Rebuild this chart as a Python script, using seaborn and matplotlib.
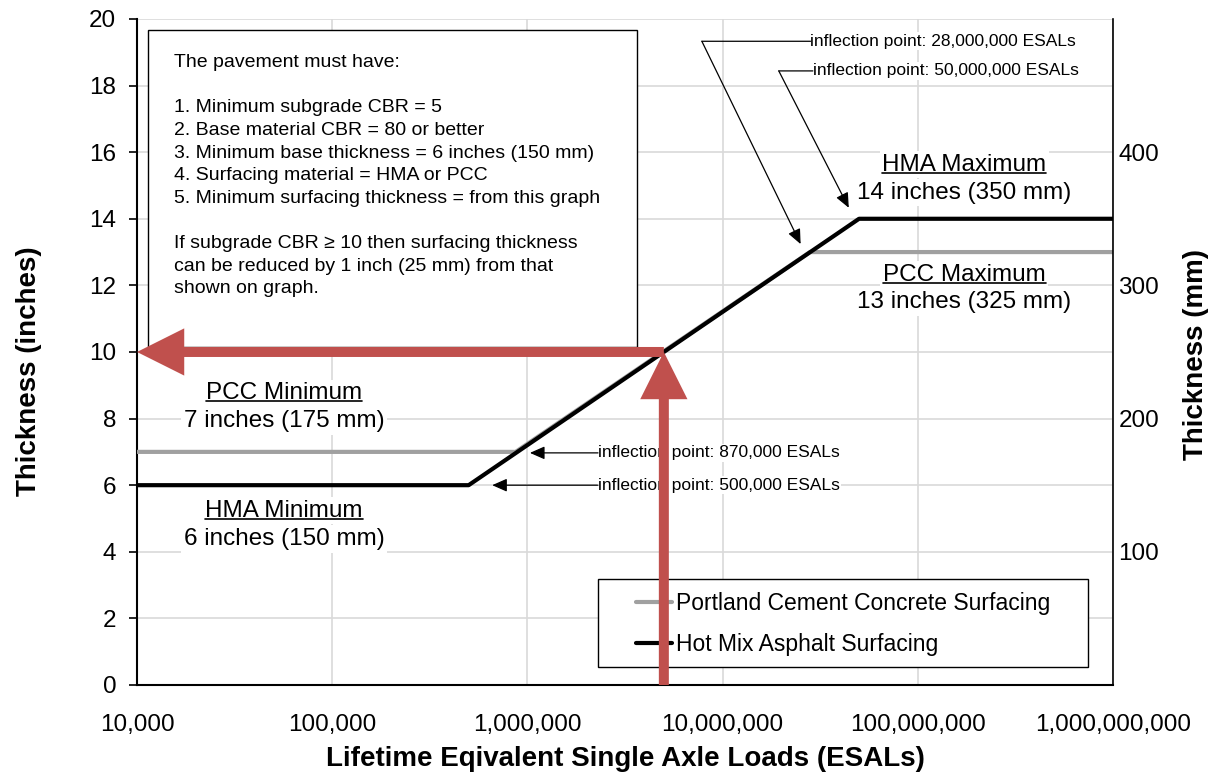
import numpy as np
import pandas as pd
import seaborn as sns
import matplotlib.pyplot as plt
from matplotlib.patches import Rectangle
from matplotlib.lines import Line2D
from matplotlib.ticker import FixedLocator, NullLocator, FuncFormatter

# minimum surfacing thickness (inches) against lifetime ESALs
series_names = ['Portland Cement Concrete Surfacing', 'Hot Mix Asphalt Surfacing']
series_colors = ['#A0A0A0', 'black']
pcc_esals = [1e4, 8.7e5, 2.8e7, 1e9]
pcc_thickness = [7, 7, 13, 13]
hma_esals = [1e4, 5e5, 5e7, 1e9]
hma_thickness = [6, 6, 14, 14]

# worked example shown by the red arrows
example_esals = 5e6
example_thickness = 10

x_ticks = [1e4, 1e5, 1e6, 1e7, 1e8, 1e9]
y_ticks = list(range(0, 21, 2))
mm_ticks = [100, 200, 300, 400]
mm_per_inch = 25

note_text = ("The pavement must have:\n\n"
             "1. Minimum subgrade CBR = 5\n"
             "2. Base material CBR = 80 or better\n"
             "3. Minimum base thickness = 6 inches (150 mm)\n"
             "4. Surfacing material = HMA or PCC\n"
             "5. Minimum surfacing thickness = from this graph\n\n"
             "If subgrade CBR \u2265 10 then surfacing thickness\n"
             "can be reduced by 1 inch (25 mm) from that\n"
             "shown on graph.")

# (title, subtitle, x, y of title, y of subtitle)
limit_labels = [
    ('HMA Maximum', '14 inches (350 mm)', 1.73e8, 15.62, 14.78),
    ('PCC Maximum', '13 inches (325 mm)', 1.73e8, 12.31, 11.50),
    ('PCC Minimum', '7 inches (175 mm)', 5.66e4, 8.76, 7.93),
    ('HMA Minimum', '6 inches (150 mm)', 5.66e4, 5.23, 4.38),
]

# (text, text x, text y, arrow tip x, arrow tip y, elbow point or None)
inflections = [
    ('inflection point: 28,000,000 ESALs', 2.82e7, 19.33, 2.51e7, 13.24, (7.83e6, 19.33)),
    ('inflection point: 50,000,000 ESALs', 2.9e7, 18.44, 4.43e7, 14.33, (1.94e7, 18.44)),
    ('inflection point: 870,000 ESALs', 2.3e6, 6.97, 1.03e6, 6.97, None),
    ('inflection point: 500,000 ESALs', 2.3e6, 6.0, 6.6e5, 6.0, None),
]

df = pd.concat([
    pd.DataFrame({'esals': pcc_esals, 'thickness': pcc_thickness, 'surfacing': series_names[0]}),
    pd.DataFrame({'esals': hma_esals, 'thickness': hma_thickness, 'surfacing': series_names[1]}),
])

sns.set_theme(style='white')
plt.rcParams['font.family'] = ['Liberation Sans', 'DejaVu Sans']
plt.rcParams['text.color'] = 'black'
plt.rcParams['axes.labelcolor'] = 'black'

fig, ax = plt.subplots(figsize=(12.2, 7.74), dpi=100)
fig.subplots_adjust(left=0.1123, right=0.9123, bottom=0.115, top=0.9755)
ax.set_xscale('log')

sns.lineplot(data=df, x='esals', y='thickness', hue='surfacing', hue_order=series_names,
             palette=dict(zip(series_names, series_colors)), linewidth=3,
             estimator=None, sort=False, ax=ax, zorder=3)

ax.set_xlim(x_ticks[0], x_ticks[-1])
ax.set_ylim(y_ticks[0], y_ticks[-1])
ax.xaxis.set_major_locator(FixedLocator(x_ticks))
ax.xaxis.set_minor_locator(NullLocator())
ax.xaxis.set_major_formatter(FuncFormatter(lambda v, p: f'{v:,.0f}'))
ax.set_yticks(y_ticks)
ax.grid(True, color='#D9D9D9', lw=1.2)
ax.set_axisbelow(True)
ax.tick_params(axis='both', labelsize=17.5, colors='black', direction='out',
               length=6, width=1.2, pad=9)
ax.tick_params(axis='x', pad=15)
for s in ['left', 'bottom']:
    ax.spines[s].set_color('black')
    ax.spines[s].set_linewidth(1.5)
ax.spines['top'].set_visible(False)
ax.spines['right'].set_visible(False)

ax.set_xlabel('Lifetime Eqivalent Single Axle Loads (ESALs)', fontsize=20,
              fontweight='bold', labelpad=7)
ax.set_ylabel('Thickness (inches)', fontsize=20, fontweight='bold')
ax.yaxis.set_label_coords(-0.0975, 0.4715)

ax2 = ax.twinx()
ax2.set_ylim(y_ticks[0] * mm_per_inch, y_ticks[-1] * mm_per_inch)
ax2.set_yticks(mm_ticks)
ax2.grid(False)
ax2.tick_params(axis='y', labelsize=17.5, colors='black', length=0, pad=4)
for s in ['top', 'left', 'bottom']:
    ax2.spines[s].set_visible(False)
ax2.spines['right'].set_color('black')
ax2.spines['right'].set_linewidth(1.2)
ax2.set_ylabel('Thickness (mm)', fontsize=20, fontweight='bold')
ax2.yaxis.set_label_coords(1.0717, 0.496)

# legend inside its own frame
handles, labels = ax.get_legend_handles_labels()
ax.add_patch(Rectangle((0.4723, 0.027), 0.5021, 0.132, transform=ax.transAxes,
                       fc='white', ec='black', lw=1, zorder=4.5))
leg = ax.legend(handles, labels, frameon=False, loc='center left',
                bbox_to_anchor=(0.511, 0.0915), fontsize=16.5, handlelength=1.6,
                handletextpad=0.15, labelspacing=0.78, borderpad=0, borderaxespad=0)
leg.set_zorder(5)

# requirements note
ax.add_patch(Rectangle((0.0113, 0.5075), 0.501, 0.476, transform=ax.transAxes,
                       fc='white', ec='black', lw=1, zorder=4))
ax.text(0.0379, 0.9475, note_text, transform=ax.transAxes, fontsize=14,
        va='top', ha='left', linespacing=1.435, zorder=4.1)

white_box = dict(fc='white', ec='none', pad=2)
titles = []
for title, sub, x, yt, ys in limit_labels:
    titles.append(ax.text(x, yt, title, fontsize=17.5, ha='center', va='center',
                          bbox=white_box, zorder=4))
    ax.text(x, ys, sub, fontsize=17.5, ha='center', va='center', bbox=white_box, zorder=4)

for text, tx, ty, px, py, elbow in inflections:
    ax.text(tx, ty, text, fontsize=12.5, ha='left', va='center',
            bbox=dict(fc='white', ec='none', pad=1), zorder=4)
    start = (tx, ty)
    if elbow is not None:
        ax.annotate('', xy=elbow, xytext=start,
                    arrowprops=dict(arrowstyle='-', color='black', lw=0.9,
                                    shrinkA=0, shrinkB=0), zorder=4)
        start = elbow
    ax.annotate('', xy=(px, py), xytext=start,
                arrowprops=dict(arrowstyle='-|>,head_length=0.5,head_width=0.22', color='black',
                                lw=0.9, mutation_scale=18, shrinkA=0, shrinkB=0), zorder=4)

# worked example arrows
red_style = 'simple,head_length=3.4,head_width=3.4,tail_width=0.72'
ax.annotate('', xy=(x_ticks[0], example_thickness), xytext=(example_esals, example_thickness),
            arrowprops=dict(arrowstyle=red_style, mutation_scale=10, color='#C0504D',
                            lw=0, shrinkA=0, shrinkB=0), zorder=7)
ax.annotate('', xy=(example_esals, example_thickness), xytext=(example_esals, y_ticks[0]),
            arrowprops=dict(arrowstyle=red_style, mutation_scale=10, color='#C0504D',
                            lw=0, shrinkA=0, shrinkB=0), zorder=7)

# underline the limit titles
fig.canvas.draw()
renderer = fig.canvas.get_renderer()
to_axes = ax.transAxes.inverted()
for t in titles:
    bb = t.get_window_extent(renderer)
    (x0, y0), (x1, _) = to_axes.transform([(bb.x0, bb.y0 + 3), (bb.x1, bb.y1)])
    ax.add_line(Line2D([x0, x1], [y0, y0], transform=ax.transAxes, color='black',
                       lw=1.2, zorder=4.2))

fig.savefig('out.png', dpi=100)
